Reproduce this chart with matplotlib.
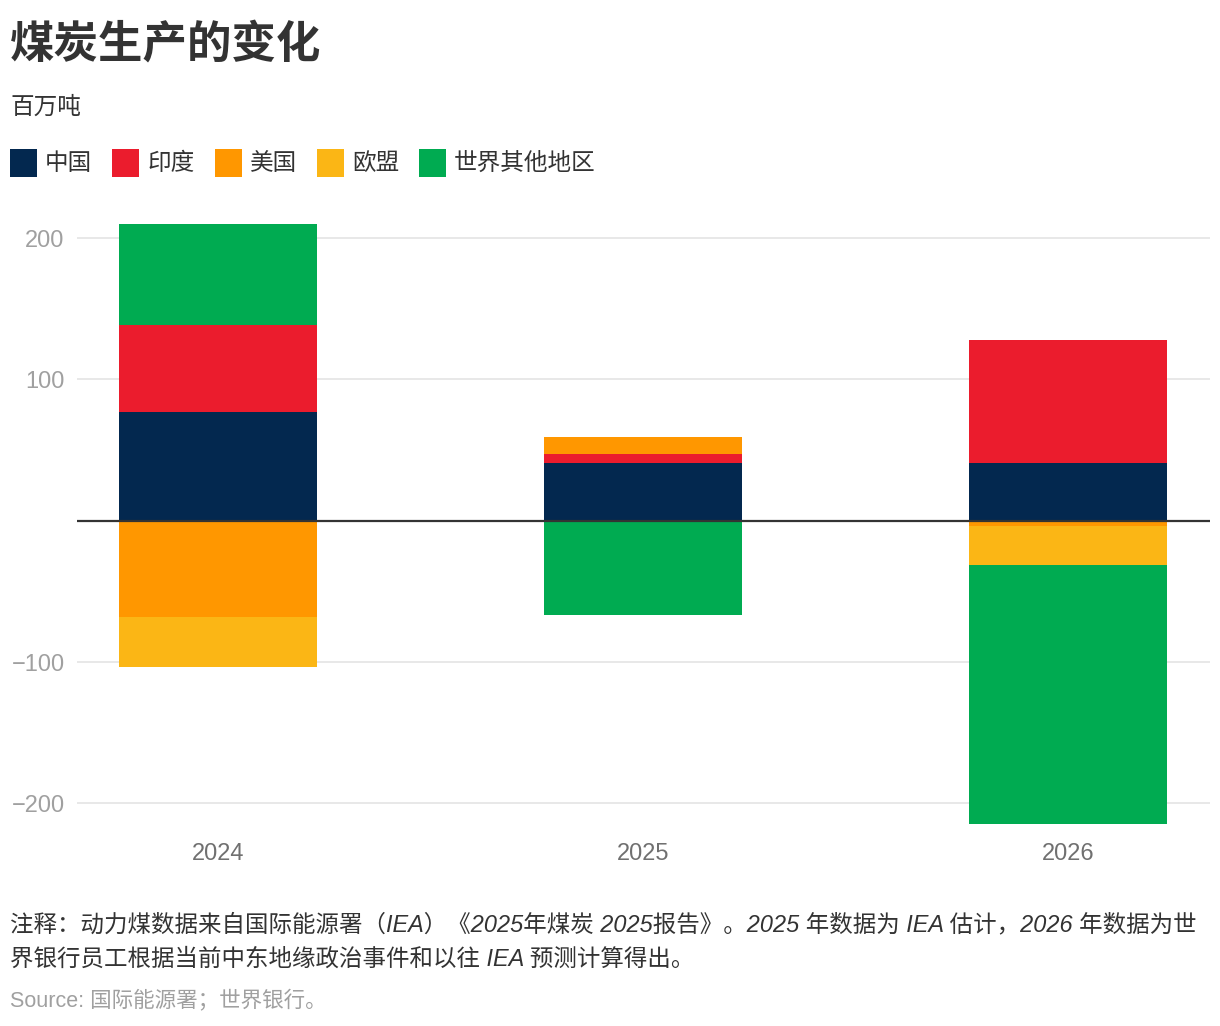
import numpy as np
import matplotlib
matplotlib.use('Agg')
import matplotlib.pyplot as plt
from matplotlib.patches import Rectangle

# 数据（百万吨）
years = ['2024', '2025', '2026']
regions = ['中国', '印度', '美国', '欧盟', '世界其他地区']
china = [77, 41, 41]
india = [61.5, 6.5, 87]
usa = [-68, 12, -4]
eu = [-35.5, 0, -27.5]
rest = [71.5, -67, -183]
colors = ['#03284f', '#eb1c2d', '#ff9700', '#fbb615', '#00ab51']

FONT = ['Liberation Sans', 'Noto Sans CJK SC', 'DejaVu Sans']
CJK = ['Noto Sans CJK SC', 'DejaVu Sans']
plt.rcParams['font.family'] = FONT

fig = plt.figure(figsize=(12.2, 10.26), dpi=100)
ax = fig.add_axes([0.0631, 0.1964, 0.9287, 0.5866])

x = np.arange(len(years))
series = [china, india, usa, eu, rest]
pos_bottom = np.zeros(len(years))
neg_bottom = np.zeros(len(years))
for vals, col in zip(series, colors):
    vals = np.array(vals, dtype=float)
    bottoms = np.where(vals >= 0, pos_bottom, neg_bottom)
    ax.bar(x, vals, width=0.466, bottom=bottoms, color=col, linewidth=0, zorder=2)
    pos_bottom += np.clip(vals, 0, None)
    neg_bottom += np.clip(vals, None, 0)

ax.set_xlim(-0.332, 2.334)
ax.set_ylim(-215, 211)
ax.set_yticks([-200, -100, 100, 200])
ax.yaxis.grid(True, color='#e6e6e6', linewidth=1.3, zorder=0)
ax.axhline(0, color='#333333', linewidth=1.6, zorder=3)
for s in ax.spines.values():
    s.set_visible(False)
ax.tick_params(axis='y', length=0, pad=9, labelsize=17, labelcolor='#a0a0a0')
ax.tick_params(axis='x', length=0, pad=13, labelsize=17, labelcolor='#707070')
ax.set_xticks(x)
ax.set_xticklabels(years)

# 标题与单位
fig.text(10 / 1220, 1 - 45 / 1026, '煤炭生产的变化', fontsize=32, fontweight='bold',
         color='#333333', va='center', ha='left', family=CJK)
fig.text(10 / 1220, 1 - 107 / 1026, '百万吨', fontsize=17, color='#333333',
         va='center', ha='left', family=CJK)

# 图例
fig.canvas.draw()
renderer = fig.canvas.get_renderer()
lx = 10
ly = 163
for name, col in zip(regions, colors):
    fig.add_artist(Rectangle((lx / 1220, 1 - (ly + 14) / 1026), 27 / 1220, 28 / 1026,
                             transform=fig.transFigure, color=col, linewidth=0))
    t = fig.text((lx + 35) / 1220, 1 - ly / 1026, name, fontsize=17, color='#333333',
                 va='center', ha='left', family=CJK)
    w = t.get_window_extent(renderer).width
    lx = lx + 35 + w + 20

# 注释与来源
note = ('注释：动力煤数据来自国际能源署（IEA）《2025年煤炭 2025报告》。2025 年数据为 IEA 估计，2026 年数据为世\n'
        '界银行员工根据当前中东地缘政治事件和以往 IEA 预测计算得出。')
fig.text(10 / 1220, 1 - 942 / 1026, note, fontsize=16.9, style='italic', color='#333333',
         va='center', ha='left', linespacing=1.6)
fig.text(10 / 1220, 1 - 1001 / 1026, 'Source: 国际能源署；世界银行。', fontsize=15.5,
         color='#a0a0a0', va='center', ha='left')

fig.savefig('out.png', dpi=100)
